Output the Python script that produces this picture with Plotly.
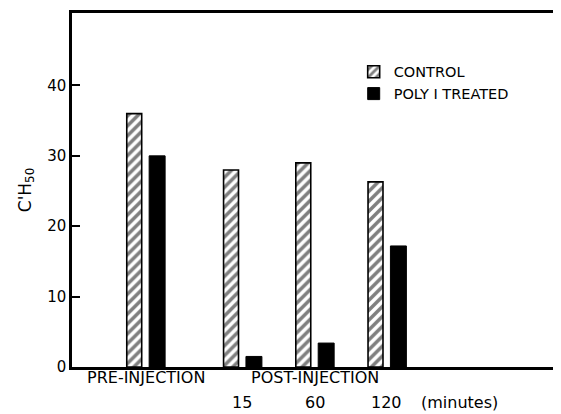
import plotly.graph_objects as go

# ---- data ----
groups = ["PRE-INJECTION", "15", "60", "120"]
group_x = [0, 1.34, 2.34, 3.34]
control = [36, 28, 29, 26.3]
poly_treated = [30, 1.5, 3.4, 17.2]
series_names = ["CONTROL", "POLY I TREATED"]
y_ticks = [0, 10, 20, 30, 40]

FONT = "DejaVu Sans"
LBL = dict(family=FONT, size=16, color="black")

fig = go.Figure()
fig.add_trace(go.Bar(
    x=group_x, y=control, name=series_names[0],
    offset=-0.262, width=0.207,
    marker=dict(color="white",
                line=dict(color="black", width=1.6),
                pattern=dict(shape="/", fgcolor="black", bgcolor="white",
                             size=7, solidity=0.5)),
))
fig.add_trace(go.Bar(
    x=group_x, y=poly_treated, name=series_names[1],
    offset=0.048, width=0.221,
    marker=dict(color="black", line=dict(color="black", width=1)),
))

# x labels as annotations
annos = [
    dict(x=group_x[0], y=0.002, xref="x", yref="paper", text=groups[0],
         showarrow=False, yanchor="top", font=LBL),
    dict(x=(group_x[1] + group_x[3]) / 2, y=0.002, xref="x", yref="paper",
         text="POST-INJECTION", showarrow=False, yanchor="top", font=LBL),
]
for gx, g in zip(group_x[1:], groups[1:]):
    annos.append(dict(x=gx, y=-0.068, xref="x", yref="paper", text=g,
                      showarrow=False, yanchor="top", font=LBL))
annos.append(dict(x=group_x[3] + 0.45, y=-0.068, xref="x", yref="paper",
                  text="(minutes)", showarrow=False, yanchor="top",
                  xanchor="left", font=LBL))

fig.update_layout(
    width=553, height=406,
    margin=dict(l=64, r=3, t=2, b=47),
    paper_bgcolor="white", plot_bgcolor="white",
    barmode="overlay",
    font=dict(family=FONT, color="black"),
    showlegend=True,
    legend=dict(x=0.582, y=0.879, xanchor="left", yanchor="top",
                font=dict(family=FONT, size=14.5, color="black"),
                bgcolor="rgba(0,0,0,0)", tracegroupgap=2),
    annotations=annos,
    xaxis=dict(range=[-1.02, 5.68], showticklabels=False, ticks="",
               showgrid=False, zeroline=False,
               showline=True, linecolor="black", linewidth=2.5, mirror=True),
    yaxis=dict(range=[0, 50.3], tickvals=y_ticks, ticks="inside", ticklen=8,
               tickwidth=2, tickcolor="black",
               showgrid=False, zeroline=False,
               showline=True, linecolor="black", linewidth=2.5, mirror=True,
               tickfont=dict(family=FONT, size=15, color="black"),
               title=dict(text="C'H<sub>50</sub>", standoff=12,
                          font=dict(family=FONT, size=17, color="black"))),
)

fig.write_html("out.html")
